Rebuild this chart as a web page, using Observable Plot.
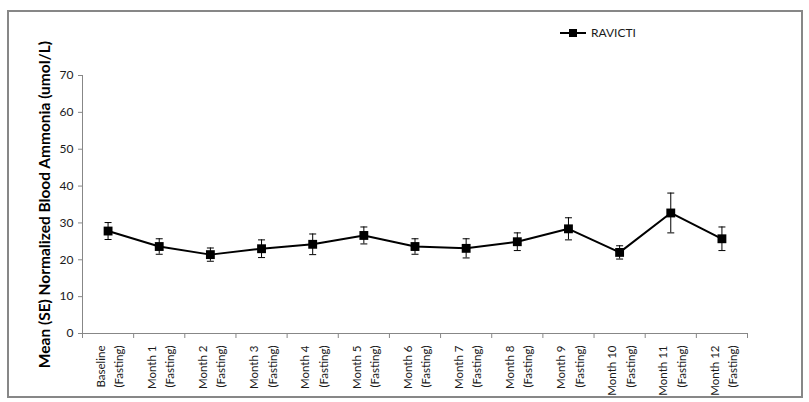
<!DOCTYPE html>
<html>
<head>
<meta charset="utf-8">
<script src="https://cdn.jsdelivr.net/npm/d3@7"></script>
<script src="https://cdn.jsdelivr.net/npm/@observablehq/plot@0.6"></script>
<style>
  html, body { margin: 0; padding: 0; background: #fff; }
  #wrap { position: relative; width: 809px; height: 402px; font-family: Lato, "Open Sans", sans-serif; }
  #frame { position: absolute; left: 7px; top: 10px; width: 792px; height: 384px; border: 2px solid #878787; pointer-events: none; }
  #legend { position: absolute; left: 560px; top: 25px; display: flex; align-items: center; font-size: 12px; color: #1a1a1a; }
  #legend svg { margin-right: 5px; }
  #chart svg [aria-label="y-axis label"] text { font-weight: bold; font-size: 15.5px; fill: #000; }
</style>
</head>
<body>
<div id="wrap">
  <div id="chart"></div>
  <div id="frame"></div>
  <div id="legend"><svg width="26" height="10"><line x1="0" y1="5" x2="26" y2="5" stroke="black" stroke-width="2"/><rect x="9" y="1" width="8" height="8" fill="black"/></svg><span>RAVICTI</span></div>
</div>
<script>
const categories = ["Baseline", "Month 1", "Month 2", "Month 3", "Month 4", "Month 5", "Month 6", "Month 7", "Month 8", "Month 9", "Month 10", "Month 11", "Month 12"];
const subLabels = ["(Fasting)", "(Fasting)", "(Fasting)", "(Fasting)", "(Fasting)", "(Fasting)", "(Fasting)", "(Fasting)", "(Fasting)", "(Fasting)", "(Fasting)", "(Fasting)", "(Fasting)"];
const means = [27.8, 23.6, 21.4, 23.0, 24.2, 26.6, 23.6, 23.1, 24.9, 28.4, 22.0, 32.7, 25.7];
const stdErr = [2.3, 2.1, 1.8, 2.4, 2.8, 2.3, 2.1, 2.6, 2.4, 3.0, 1.8, 5.4, 3.2];
const yTicks = [0, 10, 20, 30, 40, 50, 60, 70];
const seriesName = "RAVICTI";

const data = categories.map((c, i) => ({
  i, label: c, sub: subLabels[i], mean: means[i], lo: means[i] - stdErr[i], hi: means[i] + stdErr[i]
}));
const boundaries = [-0.5, ...categories.map((_, i) => i + 0.5)];

const capSymbol = {
  draw(context, size) {
    const w = Math.sqrt(size / Math.PI);
    context.moveTo(-w, 0);
    context.lineTo(w, 0);
  }
};

const plot = Plot.plot({
  width: 809,
  height: 402,
  marginLeft: 82,
  marginRight: 62,
  marginTop: 75,
  marginBottom: 69,
  style: { fontFamily: "Lato, 'Open Sans', sans-serif", fontSize: "11px", color: "#1a1a1a", background: "transparent" },
  x: { type: "linear", domain: [-0.5, 12.5] },
  y: { domain: [0, 70] },
  marks: [
    Plot.axisY({
      ticks: yTicks, tickSize: 4, tickPadding: 5, stroke: "#878787", fontSize: 12,
      label: "Mean (SE) Normalized Blood Ammonia (umol/L)", labelAnchor: "center", labelArrow: "none", labelOffset: 44
    }),
    Plot.axisX({ ticks: boundaries, tickSize: 5, tickFormat: () => "", stroke: "#878787", label: null }),
    Plot.axisX({
      ticks: categories.map((_, i) => i),
      tickFormat: (i) => `${categories[i]}\n${subLabels[i]}`,
      tickSize: 0, tickPadding: 12, tickRotate: -90, lineHeight: 1.6, fontSize: 11.5, label: null
    }),
    Plot.ruleX([-0.5], { stroke: "#878787" }),
    Plot.ruleY([0], { stroke: "#878787" }),
    Plot.ruleX(data, { x: "i", y1: "lo", y2: "hi", stroke: "black", strokeWidth: 1 }),
    Plot.dot(data, { x: "i", y: "hi", symbol: capSymbol, r: 3.5, stroke: "black", strokeWidth: 1 }),
    Plot.dot(data, { x: "i", y: "lo", symbol: capSymbol, r: 3.5, stroke: "black", strokeWidth: 1 }),
    Plot.line(data, { x: "i", y: "mean", stroke: "black", strokeWidth: 2 }),
    Plot.dot(data, { x: "i", y: "mean", symbol: "square", r: 5, fill: "black", stroke: "none" })
  ]
});
document.getElementById("chart").appendChild(plot);
document.querySelector("#legend span").textContent = seriesName;
</script>
</body>
</html>
